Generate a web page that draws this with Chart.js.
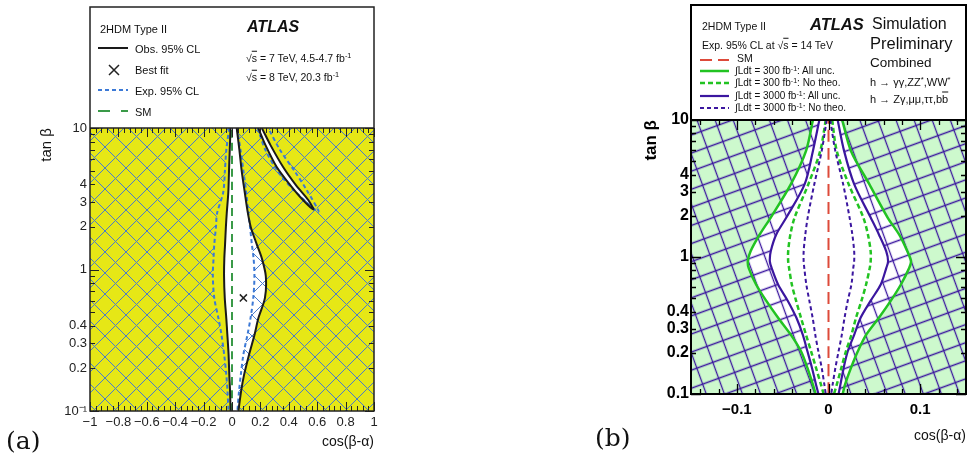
<!DOCTYPE html>
<html>
<head>
<meta charset="utf-8">
<script src="https://cdn.jsdelivr.net/npm/chart.js@4.4.1/dist/chart.umd.min.js"></script>
<style>
  body { margin: 0; background: #fff; }
  #wrap { position: relative; width: 968px; height: 462px; overflow: hidden; font-family: "Liberation Sans", Arial, sans-serif; color: #111; }
  canvas { position: absolute; top: 0; }
  #cA { left: 0; }
  #cB { left: 590px; }
  .t { position: absolute; white-space: nowrap; line-height: 1; transform: translateY(-50%); }
  .sup { font-size: 70%; position: relative; top: -0.5em; }
  .ov { text-decoration: overline; }
  .panel { font-family: "DejaVu Serif", "Liberation Serif", serif; font-size: 25px; }
</style>
</head>
<body>
<div id="wrap">
  <canvas id="cA" width="400" height="462"></canvas>
  <canvas id="cB" width="378" height="462"></canvas>

  <!-- panel (a) legend text -->
  <div class="t" style="left:100px;top:29px;font-size:11px">2HDM Type II</div>
  <div class="t" style="left:135px;top:49px;font-size:11px">Obs. 95% CL</div>
  <div class="t" style="left:135px;top:70px;font-size:11px">Best fit</div>
  <div class="t" style="left:135px;top:91px;font-size:11px">Exp. 95% CL</div>
  <div class="t" style="left:135px;top:112px;font-size:11px">SM</div>
  <div class="t" style="left:247px;top:27px;font-size:16px;font-weight:bold;font-style:italic">ATLAS</div>
  <div class="t" style="left:246px;top:58px;font-size:10.5px">√<span class="ov">s</span> = 7 TeV, 4.5-4.7 fb<span class="sup">-1</span></div>
  <div class="t" style="left:246px;top:77px;font-size:10.5px">√<span class="ov">s</span> = 8 TeV, 20.3 fb<span class="sup">-1</span></div>
  <div class="t panel" style="left:6px;top:440px">(a)</div>

  <!-- panel (b) legend text -->
  <div class="t" style="left:702px;top:26px;font-size:10.5px">2HDM Type II</div>
  <div class="t" style="left:702px;top:45px;font-size:10.5px">Exp. 95% CL at √<span class="ov">s</span> = 14 TeV</div>
  <div class="t" style="left:737px;top:58px;font-size:10.5px">SM</div>
  <div class="t" style="left:735px;top:71px;font-size:10px">∫Ldt = 300 fb<span class="sup">-1</span>: All unc.</div>
  <div class="t" style="left:735px;top:83px;font-size:10px">∫Ldt = 300 fb<span class="sup">-1</span>: No theo.</div>
  <div class="t" style="left:735px;top:96px;font-size:10px">∫Ldt = 3000 fb<span class="sup">-1</span>: All unc.</div>
  <div class="t" style="left:735px;top:108px;font-size:10px">∫Ldt = 3000 fb<span class="sup">-1</span>: No theo.</div>
  <div class="t" style="left:810px;top:24px;font-size:16.5px;font-weight:bold;font-style:italic">ATLAS</div>
  <div class="t" style="left:872px;top:24px;font-size:16px">Simulation</div>
  <div class="t" style="left:870px;top:43px;font-size:16.5px">Preliminary</div>
  <div class="t" style="left:870px;top:63px;font-size:13.5px">Combined</div>
  <div class="t" style="left:870px;top:82px;font-size:11px">h → γγ,ZZ<span class="sup">*</span>,WW<span class="sup">*</span></div>
  <div class="t" style="left:870px;top:99px;font-size:11px">h → Zγ,μμ,ττ,b<span class="ov">b</span></div>
  <div class="t panel" style="left:595px;top:437px">(b)</div>
</div>

<script>
// ---------- panel (a): observed / expected 95% CL contours ----------
const tanbA     = [10, 7, 5, 3.5, 2.5, 2, 1.5, 1.2, 0.9, 0.63, 0.45, 0.35, 0.25, 0.18, 0.14, 0.1];
const obsLeftA  = [-0.010, -0.016, -0.021, -0.026, -0.037, -0.043, -0.049, -0.054, -0.056, -0.051, -0.040, -0.033, -0.024, -0.019, -0.014, -0.010];
const obsRightA = [0.033, 0.052, 0.068, 0.090, 0.112, 0.132, 0.175, 0.210, 0.238, 0.232, 0.185, 0.160, 0.120, 0.085, 0.065, 0.045];
const expLeftA  = [-0.020, -0.040, -0.050, -0.062, -0.105, -0.113, -0.125, -0.130, -0.135, -0.125, -0.095, -0.075, -0.055, -0.040, -0.032, -0.025];
const expRightA = [0.035, 0.060, 0.080, 0.100, 0.115, 0.127, 0.140, 0.152, 0.158, 0.150, 0.130, 0.110, 0.080, 0.062, 0.050, 0.038];
// thin allowed band at upper right
const sliverT    = [10, 7.6, 5.3, 3.95, 3.1, 2.66];
const sliverObsL = [0.185, 0.235, 0.315, 0.41, 0.50, 0.573];
const sliverObsR = [0.21, 0.27, 0.36, 0.45, 0.537, 0.573];
const sliverExpT = [10, 7, 4.9, 3.64, 2.56];
const sliverExpL = [0.18, 0.235, 0.325, 0.435, 0.608];
const sliverExpR = [0.255, 0.338, 0.444, 0.526, 0.608];
const smXA = [0, 0];
const smTA = [0.1, 10];
const bestFitA = [{x: 0.08, y: 0.63}];
const xRangeA = [-1, 1];
const xTicksA = [-1, -0.8, -0.6, -0.4, -0.2, 0, 0.2, 0.4, 0.6, 0.8, 1];
const xLabelsA = ['−1', '−0.8', '−0.6', '−0.4', '−0.2', '0', '0.2', '0.4', '0.6', '0.8', '1'];
const yTicksA = [0.1, 0.2, 0.3, 0.4, 1, 2, 3, 4, 10];
const yLabelsA = ['10⁻¹', '0.2', '0.3', '0.4', '1', '2', '3', '4', '10'];

// ---------- panel (b): HL-LHC projections ----------
const tanbB       = [10, 5.95, 3.4, 1.94, 1.46, 1.1, 0.93, 0.83, 0.63, 0.48, 0.36, 0.27, 0.205, 0.155, 0.117, 0.1];
const allUnc300L  = [-0.017, -0.0245, -0.041, -0.063, -0.075, -0.085, -0.088, -0.087, -0.079, -0.068, -0.055, -0.041, -0.030, -0.023, -0.017, -0.014];
const allUnc300R  = [0.015, 0.0245, 0.0445, 0.0645, 0.077, 0.086, 0.090, 0.088, 0.079, 0.068, 0.055, 0.041, 0.032, 0.0245, 0.018, 0.0155];
const noTheo300L  = [-0.003, -0.009, -0.022, -0.037, -0.0416, -0.044, -0.044, -0.043, -0.040, -0.0354, -0.030, -0.0245, -0.019, -0.0136, -0.0082, -0.0053];
const noTheo300R  = [0.004, 0.009, 0.022, 0.038, 0.043, 0.046, 0.046, 0.045, 0.041, 0.036, 0.030, 0.025, 0.019, 0.014, 0.009, 0.006];
const allUnc3000L = [-0.010, -0.017, -0.026, -0.046, -0.057, -0.063, -0.064, -0.062, -0.055, -0.0445, -0.035, -0.028, -0.023, -0.018, -0.0136, -0.011];
const allUnc3000R = [0.010, 0.017, 0.028, 0.046, 0.055, 0.063, 0.065, 0.063, 0.057, 0.046, 0.035, 0.028, 0.021, 0.0165, 0.013, 0.011];
const noTheo3000L = [-0.002, -0.0074, -0.0155, -0.0227, -0.0253, -0.0271, -0.0271, -0.0264, -0.0242, -0.0209, -0.0173, -0.0144, -0.0111, -0.0074, -0.0045, -0.003];
const noTheo3000R = [0.002, 0.0074, 0.016, 0.023, 0.026, 0.028, 0.028, 0.027, 0.025, 0.021, 0.0175, 0.0145, 0.011, 0.0075, 0.0045, 0.003];
const smXB = [0, 0];
const smTB = [0.1, 10];
const xRangeB = [-0.15, 0.15];
const xTicksB = [-0.1, 0, 0.1];
const xLabelsB = ['−0.1', '0', '0.1'];
const yTicksB = [0.1, 0.2, 0.3, 0.4, 1, 2, 3, 4, 10];
const yLabelsB = ['0.1', '0.2', '0.3', '0.4', '1', '2', '3', '4', '10'];

const tRange = [0.1, 10];
const yMajorTicks = [0.1, 1, 10];
const yMinorTicks = [0.2, 0.3, 0.4, 0.5, 0.6, 0.7, 0.8, 0.9, 2, 3, 4, 5, 6, 7, 8, 9];

Chart.defaults.font.family = '"Liberation Sans", Arial, sans-serif';

const pts = (xs, ts) => xs.map((x, i) => ({x: x, y: ts[i]}));
const rev = a => a.slice().reverse();

function line(data, color, width, dash) {
  return {data, borderColor: color, borderWidth: width, borderDash: dash || [], pointRadius: 0, fill: false, tension: 0.3};
}
function area(data, bg) {
  return {data, backgroundColor: bg, borderColor: 'rgba(0,0,0,0)', borderWidth: 0, pointRadius: 0, fill: 'shape', tension: 0};
}

function diagHatch(size, color, width) {
  const c = document.createElement('canvas');
  c.width = c.height = size;
  const g = c.getContext('2d');
  g.strokeStyle = color; g.lineWidth = width;
  g.beginPath();
  for (let k = -1; k <= 1; k++) {
    g.moveTo(k * size, 0); g.lineTo(k * size + size, size);
    g.moveTo(k * size + size, 0); g.lineTo(k * size, size);
  }
  g.stroke();
  return g.createPattern(c, 'repeat');
}
function gridHatch(size, color, width, angle) {
  const c = document.createElement('canvas');
  c.width = c.height = size;
  const g = c.getContext('2d');
  g.strokeStyle = color; g.lineWidth = width;
  g.beginPath();
  g.moveTo(size / 2, 0); g.lineTo(size / 2, size);
  g.moveTo(0, size / 2); g.lineTo(size, size / 2);
  g.stroke();
  const p = g.createPattern(c, 'repeat');
  p.setTransform(new DOMMatrix().rotate(angle));
  return p;
}

// frame, inside ticks and legend line samples (ROOT style)
const framePlugin = {
  id: 'frame',
  beforeDatasetsDraw(chart, args, o) {
    if (!o.bg) return;
    const {ctx, chartArea: a} = chart;
    ctx.save();
    ctx.fillStyle = o.bg;
    ctx.fillRect(a.left, a.top, a.width, a.height);
    ctx.restore();
  },
  afterDraw(chart, args, o) {
    const {ctx, chartArea: a, scales: {x, y}} = chart;
    ctx.save();
    ctx.strokeStyle = o.color;
    ctx.lineWidth = o.tickWidth;
    ctx.beginPath();
    const tickX = (v, len) => {
      const p = Math.round(x.getPixelForValue(v)) + 0.5;
      ctx.moveTo(p, a.bottom); ctx.lineTo(p, a.bottom - len);
      ctx.moveTo(p, a.top); ctx.lineTo(p, a.top + len);
    };
    const tickY = (v, len) => {
      const p = Math.round(y.getPixelForValue(v)) + 0.5;
      ctx.moveTo(a.left, p); ctx.lineTo(a.left + len, p);
      ctx.moveTo(a.right, p); ctx.lineTo(a.right - len, p);
    };
    const st = o.xMinorStep;
    for (let k = Math.ceil(x.min / st - 1e-6); k * st <= x.max + 1e-9; k++) tickX(k * st, o.minorLen);
    o.xMajor.forEach(v => tickX(v, o.majorLen));
    o.yMinor.forEach(v => tickY(v, o.minorLen));
    o.yMajor.forEach(v => tickY(v, o.majorLen));
    ctx.stroke();
    ctx.lineWidth = o.frameWidth;
    ctx.strokeRect(a.left, o.legendTop, a.width, a.bottom - o.legendTop);
    ctx.beginPath();
    ctx.moveTo(a.left, a.top); ctx.lineTo(a.right, a.top);
    ctx.stroke();
    o.samples.forEach(s => {
      ctx.beginPath();
      ctx.strokeStyle = s.color;
      ctx.lineWidth = s.width;
      ctx.setLineDash(s.dash || []);
      if (s.cross) {
        ctx.moveTo(s.x - s.r, s.y - s.r); ctx.lineTo(s.x + s.r, s.y + s.r);
        ctx.moveTo(s.x + s.r, s.y - s.r); ctx.lineTo(s.x - s.r, s.y + s.r);
      } else {
        ctx.moveTo(s.x0, s.y); ctx.lineTo(s.x1, s.y);
      }
      ctx.stroke();
    });
    ctx.restore();
  }
};

// ---------- chart (a) ----------
const yellow = '#e6e716';
const blueHatch = diagHatch(21, '#4a7ccb', 1);
const obsCol = '#1a1a1a', expCol = '#3c79d6', smColA = '#3a9a48';

const obsCentral = [...pts(obsLeftA, tanbA), ...rev(pts(obsRightA, tanbA))];
const obsSliver = [...pts(sliverObsL, sliverT), ...rev(pts(sliverObsR, sliverT)).slice(1)];
const expSliver = [...pts(sliverExpL, sliverExpT), ...rev(pts(sliverExpR, sliverExpT)).slice(1)];
const hatchLeftA = [{x: xRangeA[0], y: tRange[1]}, {x: xRangeA[0], y: tRange[0]}, ...rev(pts(expLeftA, tanbA))];
const hatchRightA = [{x: xRangeA[1], y: tRange[0]}, ...rev(pts(expRightA, tanbA)),
  ...pts(sliverExpL, sliverExpT), ...rev(pts(sliverExpR, sliverExpT)).slice(1), {x: xRangeA[1], y: tRange[1]}];

new Chart(document.getElementById('cA'), {
  type: 'line',
  data: {
    datasets: [
      {data: bestFitA, showLine: false, pointStyle: 'crossRot', pointRadius: 5, pointBorderWidth: 1.5, pointBorderColor: '#222'},
      line(pts(obsLeftA, tanbA), obsCol, 2),
      line(pts(obsRightA, tanbA), obsCol, 2),
      line(obsSliver, obsCol, 2),
      line(pts(smXA, smTA), smColA, 2, [8, 5]),
      line(pts(expLeftA, tanbA), expCol, 2, [4, 3]),
      line(pts(expRightA, tanbA), expCol, 2, [4, 3]),
      line(expSliver, expCol, 2, [4, 3]),
      area(hatchLeftA, blueHatch),
      area(hatchRightA, blueHatch),
      area(obsSliver, '#ffffff'),
      area(obsCentral, '#ffffff')
    ]
  },
  options: {
    responsive: false, animation: false, devicePixelRatio: 1,
    layout: {padding: {left: 38, right: 26, top: 128, bottom: 0}},
    plugins: {
      legend: {display: false}, tooltip: {enabled: false},
      frame: {
        bg: yellow, legendTop: 7, frameWidth: 1.5, color: '#222', tickWidth: 1,
        xMajor: xTicksA, xMinorStep: 0.04, majorLen: 9, minorLen: 5,
        yMajor: yMajorTicks, yMinor: yMinorTicks,
        samples: [
          {x0: 98, x1: 128, y: 48, color: obsCol, width: 2},
          {cross: true, x: 114, y: 70, r: 5, color: '#222', width: 1.5},
          {x0: 98, x1: 128, y: 90, color: expCol, width: 2, dash: [4, 3]},
          {x0: 98, x1: 128, y: 111, color: smColA, width: 2, dash: [12, 11]}
        ]
      }
    },
    scales: {
      x: {
        type: 'linear', min: xRangeA[0], max: xRangeA[1],
        grid: {display: false, drawTicks: false}, border: {display: false},
        afterBuildTicks: s => { s.ticks = xTicksA.map(v => ({value: v})); },
        afterFit: s => { s.height = 51; },
        ticks: {padding: 4, autoSkip: false, maxRotation: 0, color: '#222', font: {size: 13}, callback: (v, i) => xLabelsA[i]},
        title: {display: true, text: 'cos(β-α)', align: 'end', color: '#111', font: {size: 14}, padding: {top: 0, bottom: 11}}
      },
      y: {
        type: 'logarithmic', min: tRange[0], max: tRange[1],
        grid: {display: false, drawTicks: false}, border: {display: false},
        afterBuildTicks: s => { s.ticks = yTicksA.map(v => ({value: v})); },
        afterFit: s => { s.width = 52; },
        ticks: {padding: 3, autoSkip: false, color: '#222', font: {size: 13}, callback: (v, i) => yLabelsA[i]},
        title: {display: true, text: 'tan β', align: 'end', color: '#111', font: {size: 15}, padding: {top: 0, bottom: 0}}
      }
    }
  },
  plugins: [framePlugin]
});

// ---------- chart (b) ----------
const lightGreen = '#cdf9cd';
const purpleHatch = gridHatch(17, '#3b169f', 1.3, -20);
const greenCol = '#22c322', purpleCol = '#3b169f', redCol = '#dd4a3a';

const greenL = [{x: xRangeB[0], y: tRange[1]}, {x: xRangeB[0], y: tRange[0]}, ...rev(pts(allUnc300L, tanbB))];
const greenR = [{x: xRangeB[1], y: tRange[1]}, {x: xRangeB[1], y: tRange[0]}, ...rev(pts(allUnc300R, tanbB))];
const hatchL = [{x: xRangeB[0], y: tRange[1]}, {x: xRangeB[0], y: tRange[0]}, ...rev(pts(allUnc3000L, tanbB))];
const hatchR = [{x: xRangeB[1], y: tRange[1]}, {x: xRangeB[1], y: tRange[0]}, ...rev(pts(allUnc3000R, tanbB))];

new Chart(document.getElementById('cB'), {
  type: 'line',
  data: {
    datasets: [
      line(pts(smXB, smTB), redCol, 2, [12, 6]),
      line(pts(noTheo3000L, tanbB), purpleCol, 2, [4, 3]),
      line(pts(noTheo3000R, tanbB), purpleCol, 2, [4, 3]),
      line(pts(noTheo300L, tanbB), greenCol, 2.5, [5, 3]),
      line(pts(noTheo300R, tanbB), greenCol, 2.5, [5, 3]),
      line(pts(allUnc3000L, tanbB), purpleCol, 2.2),
      line(pts(allUnc3000R, tanbB), purpleCol, 2.2),
      line(pts(allUnc300L, tanbB), greenCol, 2.5),
      line(pts(allUnc300R, tanbB), greenCol, 2.5),
      area(hatchL, purpleHatch),
      area(hatchR, purpleHatch),
      area(greenL, lightGreen),
      area(greenR, lightGreen)
    ]
  },
  options: {
    responsive: false, animation: false, devicePixelRatio: 1,
    layout: {padding: {left: 51, right: 2, top: 120, bottom: 0}},
    plugins: {
      legend: {display: false}, tooltip: {enabled: false},
      frame: {
        bg: null, legendTop: 5, frameWidth: 2, color: '#000', tickWidth: 1.3,
        xMajor: xTicksB, xMinorStep: 0.02, majorLen: 10, minorLen: 5,
        yMajor: yMajorTicks, yMinor: yMinorTicks,
        samples: [
          {x0: 110, x1: 139, y: 60, color: redCol, width: 2, dash: [12, 6]},
          {x0: 110, x1: 139, y: 71, color: greenCol, width: 2.5},
          {x0: 110, x1: 139, y: 83, color: greenCol, width: 2.5, dash: [5, 3]},
          {x0: 110, x1: 139, y: 96, color: purpleCol, width: 2.2},
          {x0: 110, x1: 139, y: 108, color: purpleCol, width: 2, dash: [4, 3]}
        ]
      }
    },
    scales: {
      x: {
        type: 'linear', min: xRangeB[0], max: xRangeB[1],
        grid: {display: false, drawTicks: false}, border: {display: false},
        afterBuildTicks: s => { s.ticks = xTicksB.map(v => ({value: v})); },
        afterFit: s => { s.height = 68; },
        ticks: {padding: 7, autoSkip: false, maxRotation: 0, color: '#000', font: {size: 15, weight: 'bold'}, callback: (v, i) => xLabelsB[i]},
        title: {display: true, text: 'cos(β-α)', align: 'end', color: '#111', font: {size: 14}, padding: {top: 0, bottom: 17}}
      },
      y: {
        type: 'logarithmic', min: tRange[0], max: tRange[1],
        grid: {display: false, drawTicks: false}, border: {display: false},
        afterBuildTicks: s => { s.ticks = yTicksB.map(v => ({value: v})); },
        afterFit: s => { s.width = 50; },
        ticks: {padding: 2, autoSkip: false, color: '#000', font: {size: 16, weight: 'bold'}, callback: (v, i) => yLabelsB[i]},
        title: {display: true, text: 'tan β', align: 'end', color: '#000', font: {size: 17, weight: 'bold'}, padding: {top: 0, bottom: 0}}
      }
    }
  },
  plugins: [framePlugin]
});
</script>
</body>
</html>
